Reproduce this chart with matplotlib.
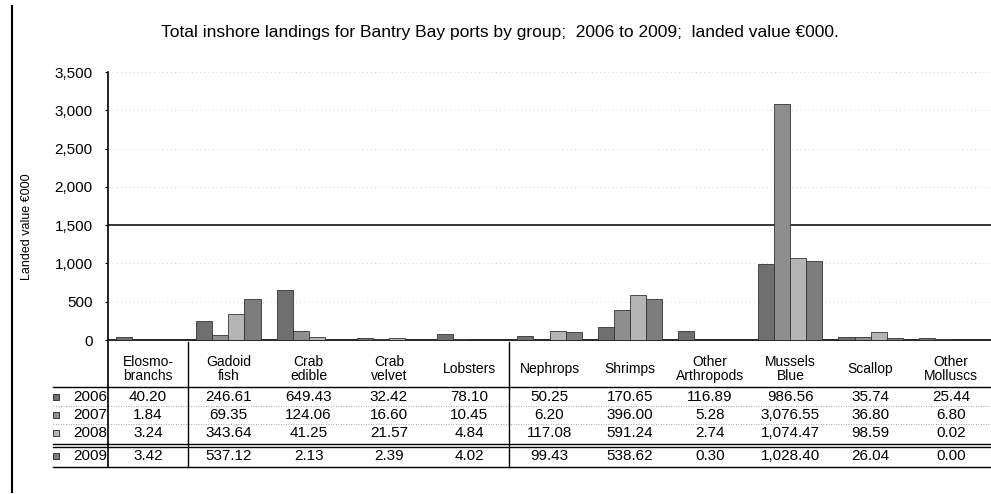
import matplotlib
matplotlib.use("Agg")
import matplotlib.pyplot as plt
import matplotlib.ticker as mticker
import matplotlib.transforms as mtransforms
from matplotlib.lines import Line2D
from matplotlib.patches import Rectangle

plt.rcParams["font.family"] = ["Liberation Sans", "DejaVu Sans"]

groups = ["Elosmo-\nbranchs", "Gadoid\nfish", "Crab\nedible", "Crab\nvelvet", "Lobsters",
          "Nephrops", "Shrimps", "Other\nArthropods", "Mussels\nBlue", "Scallop", "Other\nMolluscs"]
years = ["2006", "2007", "2008", "2009"]
v2006 = [40.20, 246.61, 649.43, 32.42, 78.10, 50.25, 170.65, 116.89, 986.56, 35.74, 25.44]
v2007 = [1.84, 69.35, 124.06, 16.60, 10.45, 6.20, 396.00, 5.28, 3076.55, 36.80, 6.80]
v2008 = [3.24, 343.64, 41.25, 21.57, 4.84, 117.08, 591.24, 2.74, 1074.47, 98.59, 0.02]
v2009 = [3.42, 537.12, 2.13, 2.39, 4.02, 99.43, 538.62, 0.30, 1028.40, 26.04, 0.00]
series = [v2006, v2007, v2008, v2009]
colors = ["#6f6f6f", "#8e8e8e", "#b5b5b5", "#7d7d7d"]

title = "Total inshore landings for Bantry Bay ports by group;  2006 to 2009;  landed value \u20ac000."

W, H = 991, 494


def fy(px):
    return 1 - px / H


def fx(px):
    return px / W


fig = plt.figure(figsize=(W / 100, H / 100), dpi=100)
ax = fig.add_axes([fx(108), fy(340), fx(991) - fx(108), fy(72) - fy(340)])

xs = range(len(groups))
bw = 0.2
for i, (vals, col) in enumerate(zip(series, colors)):
    ax.bar([x + (i - 1.5) * bw for x in xs], vals, bw, color=col,
           edgecolor="#333333", linewidth=0.6, zorder=3)

ax.set_xlim(-0.5, len(groups) - 0.5)
ax.set_ylim(0, 3500)
ax.set_yticks(range(0, 3501, 500))
ax.yaxis.set_major_formatter(mticker.FuncFormatter(lambda v, _: f"{int(v):,}"))
ax.tick_params(axis="y", length=2, pad=9, labelsize=11)
ax.set_xticks([])
ax.yaxis.grid(True, color="#c8c8c8", linestyle=(0, (1, 4)), linewidth=0.6)
ax.axhline(1500, color="black", linewidth=1.1, zorder=2)
for s in ["top", "right"]:
    ax.spines[s].set_visible(False)
ax.spines["left"].set_linewidth(1.2)
ax.spines["bottom"].set_linewidth(1.2)

fig.text(fx(500), fy(32), title, ha="center", va="center", fontsize=12.5)
fig.text(fx(27), fy(227), "Landed value \u20ac000", rotation=90, ha="center", va="center", fontsize=9)

# table under the axis
trans = mtransforms.blended_transform_factory(ax.transData, fig.transFigure)
for x, g in zip(xs, groups):
    fig.text(x, fy(369), g, transform=trans, ha="center", va="center", fontsize=10, linespacing=1.0)

row_y = [397, 415, 433, 456]
for yr, vals, col, ry in zip(years, series, colors, row_y):
    fig.text(fx(107), fy(ry), yr, ha="right", va="center", fontsize=11)
    fig.add_artist(Rectangle((fx(53), fy(ry + 3)), fx(6), fy(0) - fy(6),
                             transform=fig.transFigure, facecolor=col, edgecolor="black", linewidth=0.5))
    for x, v in zip(xs, vals):
        fig.text(x, fy(ry), f"{v:,.2f}", transform=trans, ha="center", va="center", fontsize=11)

# table rules
fig.add_artist(Line2D([fx(53), fx(991)], [fy(387), fy(387)], color="black", linewidth=1.0))
for yy in [406, 424]:
    fig.add_artist(Line2D([fx(53), fx(991)], [fy(yy), fy(yy)], color="#888888",
                          linewidth=0.6, linestyle=(0, (1, 2))))
fig.add_artist(Line2D([fx(53), fx(991)], [fy(444), fy(444)], color="black", linewidth=1.0))
fig.add_artist(Line2D([fx(53), fx(991)], [fy(447), fy(447)], color="black", linewidth=1.0))
fig.add_artist(Line2D([fx(53), fx(991)], [fy(467), fy(467)], color="black", linewidth=1.0))
fig.add_artist(Line2D([-0.5, -0.5], [fy(340), fy(467)], transform=trans, color="black", linewidth=1.2))
for bx in [0.5, 4.5]:
    fig.add_artist(Line2D([bx, bx], [fy(342), fy(467)], transform=trans, color="black", linewidth=1.0))

# scan border on the left
fig.add_artist(Line2D([fx(12), fx(12)], [fy(6), fy(492)], color="black", linewidth=1.5))

fig.savefig("out.png", dpi=100, facecolor="white")
